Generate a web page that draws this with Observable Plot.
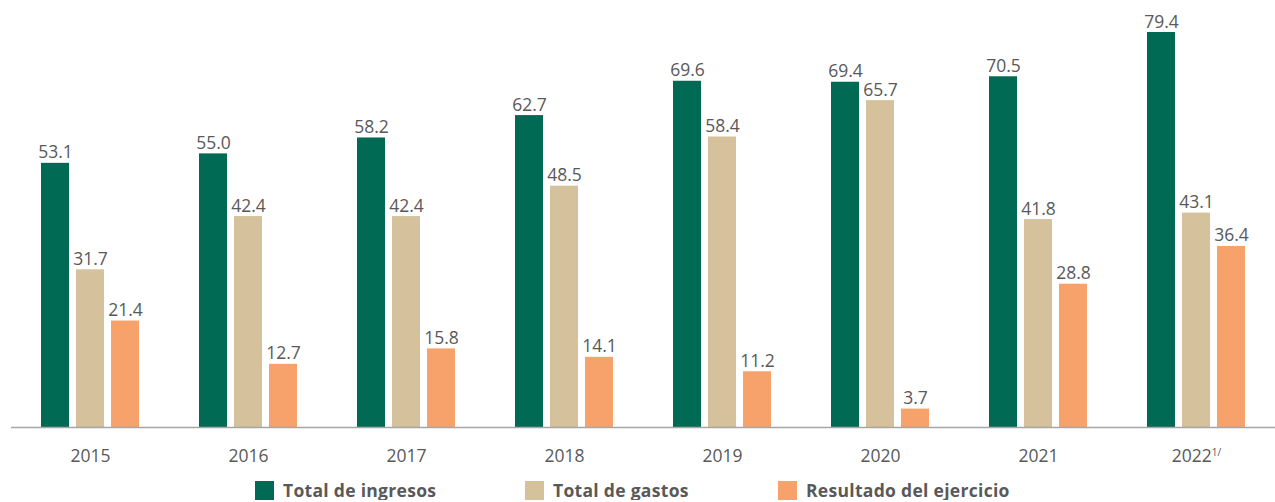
<!DOCTYPE html>
<html>
<head>
<meta charset="utf-8">
<script src="https://cdn.jsdelivr.net/npm/d3@7"></script>
<script src="https://cdn.jsdelivr.net/npm/@observablehq/plot@0.6"></script>
<style>
  body { margin: 0; background: #fff; font-family: "Open Sans", sans-serif; }
  #chart svg { display: block; }
  #legend { display: flex; justify-content: flex-start; padding-left: 255px; margin-top: 9px; }
  .item { display: flex; align-items: center; font-weight: 700; font-size: 17.5px; line-height: 19px; height: 19px; color: #595959; letter-spacing: 0.3px; }
  .sw { width: 19px; height: 19px; margin-right: 9px; flex: none; }
</style>
</head>
<body>
<div id="chart"></div>
<div id="legend"></div>
<script>
const years = ["2015", "2016", "2017", "2018", "2019", "2020", "2021", "2022"];
const series = ["Total de ingresos", "Total de gastos", "Resultado del ejercicio"];
const ingresos = [53.1, 55.0, 58.2, 62.7, 69.6, 69.4, 70.5, 79.4];
const gastos = [31.7, 42.4, 42.4, 48.5, 58.4, 65.7, 41.8, 43.1];
const resultado = [21.4, 12.7, 15.8, 14.1, 11.2, 3.7, 28.8, 36.4];
const colors = ["#006a55", "#d5c19b", "#f7a26b"];

const data = [];
years.forEach((yr, i) => {
  data.push({year: yr, serie: series[0], value: ingresos[i]});
  data.push({year: yr, serie: series[1], value: gastos[i]});
  data.push({year: yr, serie: series[2], value: resultado[i]});
});

const chart = Plot.plot({
  width: 1275,
  height: 472,
  marginTop: 32,
  marginBottom: 45,
  marginLeft: 10,
  marginRight: 0,
  style: {fontFamily: "Open Sans, sans-serif", fontSize: "17px", color: "#595959"},
  fx: {domain: years, padding: 0, label: null, axis: "bottom", tickSize: 0, tickPadding: 22},
  x: {domain: series, axis: null, paddingInner: 0.2, paddingOuter: 0.83},
  y: {domain: [0, 79.4], axis: null},
  color: {domain: series, range: colors},
  marks: [
    Plot.barY(data, {fx: "year", x: "serie", y: "value", fill: "serie"}),
    Plot.text(data, {fx: "year", x: "serie", y: "value", text: d => d.value.toFixed(1),
      lineAnchor: "bottom", dy: -5, fill: "#595959", fontSize: 17.5}),
    Plot.ruleY([0], {stroke: "#a6a6a6", strokeWidth: 1.5})
  ]
});
document.getElementById("chart").appendChild(chart);

// axis label size and superscript on the 2022 label
d3.select(chart).selectAll("[aria-label='fx-axis tick label']").attr("font-size", 17.5).attr("fill", "#595959");
d3.select(chart).selectAll("text").each(function() {
  if (this.textContent === "2022" && this.closest("[aria-label='fx-axis tick label']")) {
    d3.select(this).text("2022").append("tspan").attr("font-size", 10).attr("dy", "-0.6em").text("1/");
  }
});

const legend = document.getElementById("legend");
const widths = [270, 253, 260];
series.forEach((s, i) => {
  const it = document.createElement("div");
  it.className = "item";
  it.style.width = widths[i] + "px";
  it.innerHTML = `<span class="sw" style="background:${colors[i]}"></span>${s}`;
  legend.appendChild(it);
});
</script>
</body>
</html>
